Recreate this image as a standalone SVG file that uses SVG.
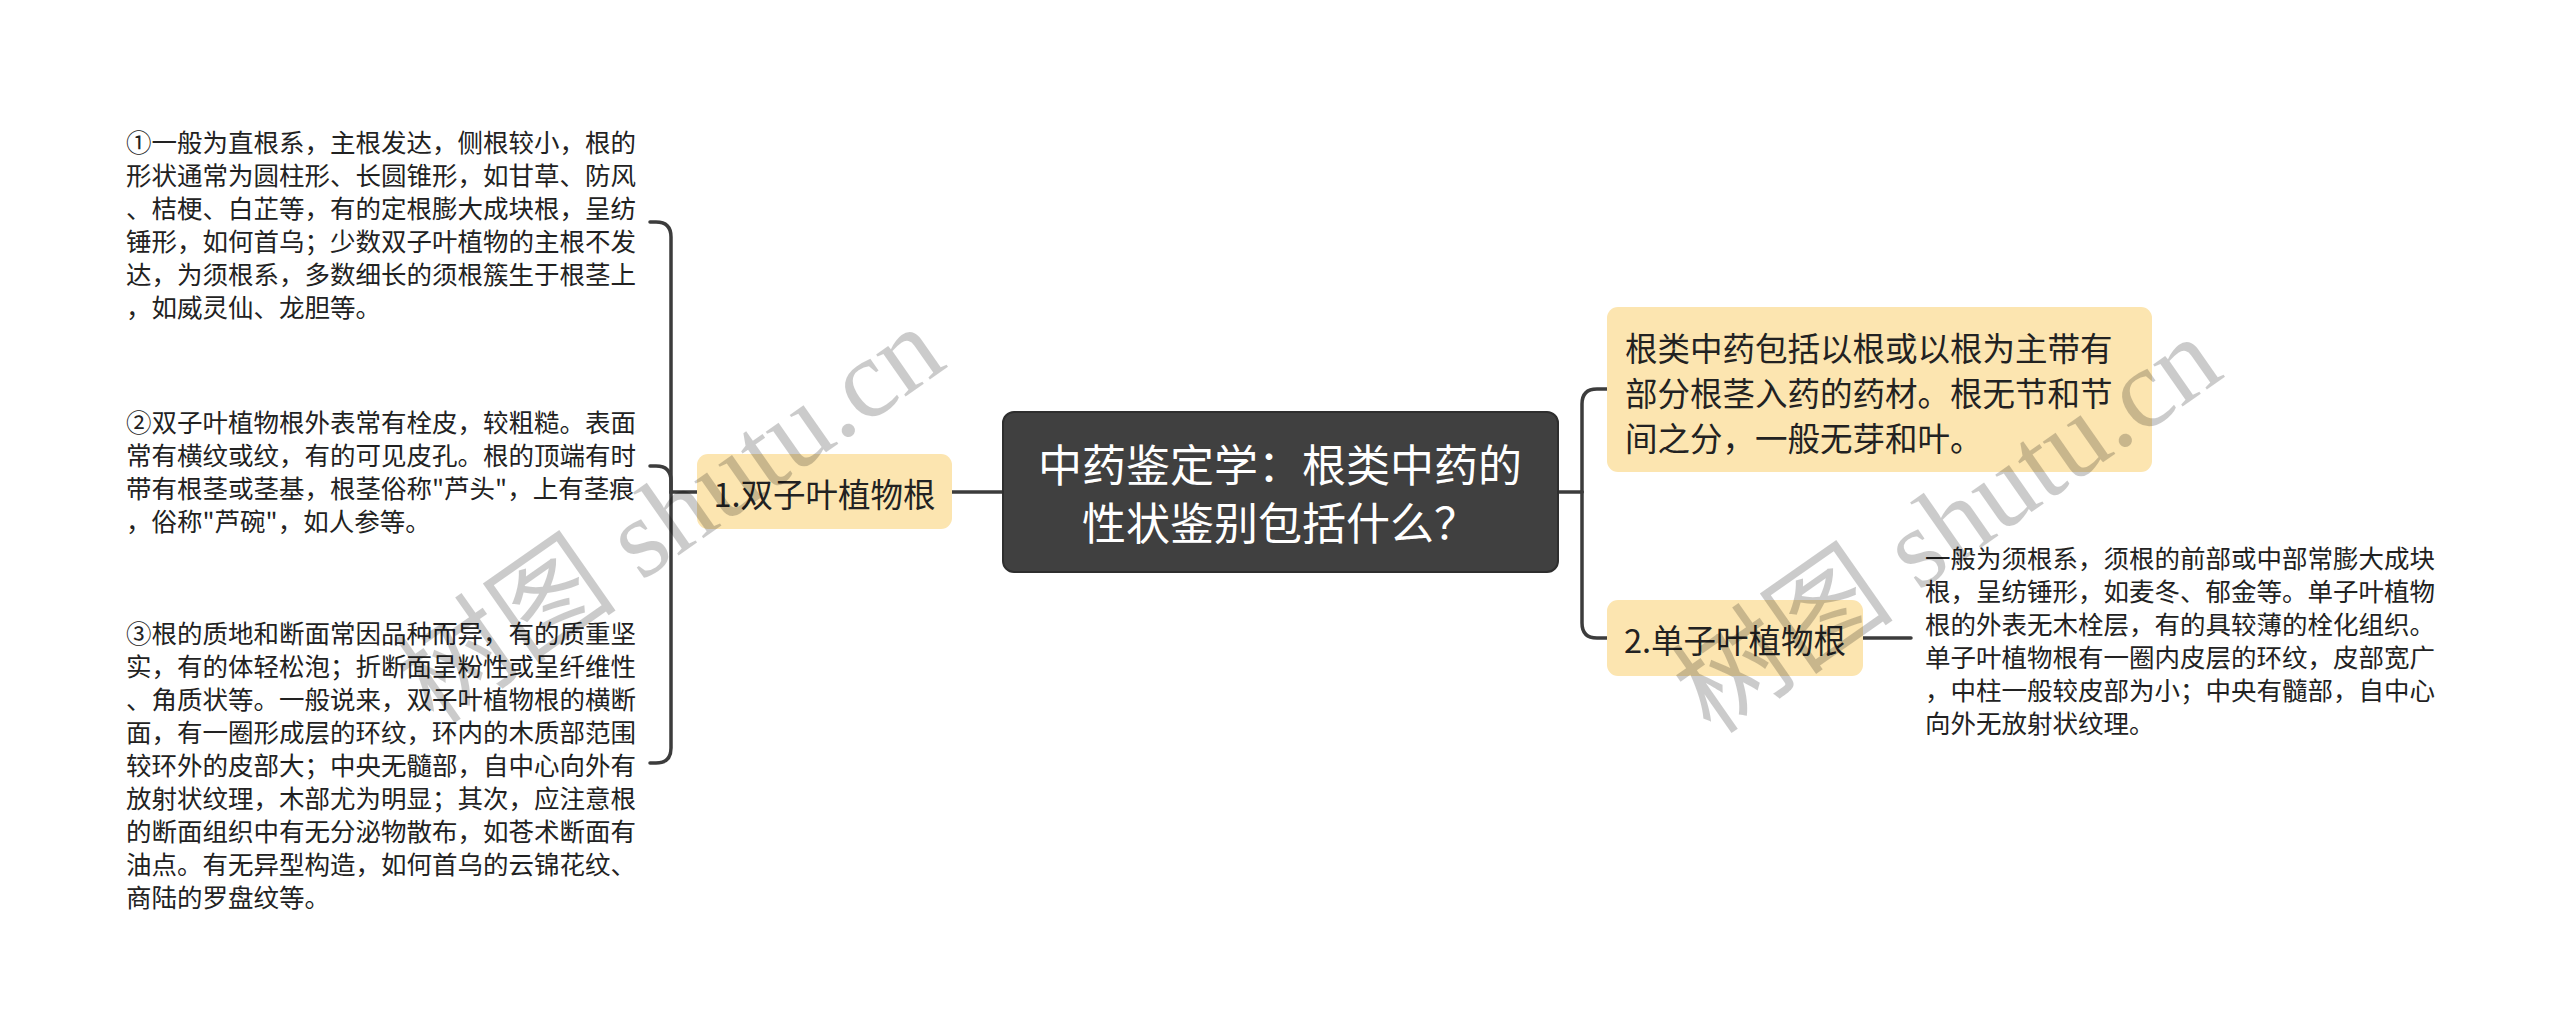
<svg xmlns="http://www.w3.org/2000/svg" width="2560" height="1033" viewBox="0 0 2560 1033">
<style>
.cn{font-family:"Noto Sans CJK SC","Noto Sans",sans-serif;}
.det{font-size:25.5px;fill:#222;}
.mid{font-size:32.5px;fill:#222;}
.rt{font-size:44px;fill:#fff;}
.box{fill:#fce5b0;}
.link{fill:none;stroke:#3c3c3c;stroke-width:3.5;stroke-linecap:round;}
.wm{font-family:"Liberation Serif","Noto Sans CJK SC",serif;font-size:112px;fill:#000;opacity:0.2;}
</style>
<rect width="2560" height="1033" fill="#fff"/>
<g id="connectors">
  <path class="link" d="M1003 492 H952"/>
  <path class="link" d="M697 492 H671 V237 Q671 222 656 222 H650"/>
  <path class="link" d="M671 492 V481 Q671 466 656 466 H650"/>
  <path class="link" d="M671 492 V748 Q671 763 656 763 H650"/>
  <path class="link" d="M1557 492 H1582"/>
  <path class="link" d="M1582 492 V404 Q1582 389 1597 389 H1607"/>
  <path class="link" d="M1582 492 V623 Q1582 638 1597 638 H1607"/>
  <path class="link" d="M1863 638 H1911"/>
</g>
<g id="root">
  <rect x="1003" y="412" width="555" height="160" rx="11" fill="#404040" stroke="#2e2e2e" stroke-width="2"/>
  <text class="cn rt" text-anchor="middle" dominant-baseline="central"><tspan x="1280" y="463">中药鉴定学：根类中药的</tspan><tspan x="1280" y="521">性状鉴别包括什么？</tspan></text>
</g>
<g id="node1">
  <rect class="box" x="697" y="454" width="255" height="75" rx="11"/>
  <text class="cn mid" x="824.5" y="492" text-anchor="middle" dominant-baseline="central">1.双子叶植物根</text>
</g>
<g id="detail1">
  <text class="cn det" dominant-baseline="central"><tspan x="126" y="140">①一般为直根系，主根发达，侧根较小，根的</tspan><tspan x="126" y="173">形状通常为圆柱形、长圆锥形，如甘草、防风</tspan><tspan x="126" y="206">、桔梗、白芷等，有的定根膨大成块根，呈纺</tspan><tspan x="126" y="239">锤形，如何首乌；少数双子叶植物的主根不发</tspan><tspan x="126" y="272">达，为须根系，多数细长的须根簇生于根茎上</tspan><tspan x="126" y="305">，如威灵仙、龙胆等。</tspan></text>
</g>
<g id="detail2">
  <text class="cn det" dominant-baseline="central"><tspan x="126" y="420">②双子叶植物根外表常有栓皮，较粗糙。表面</tspan><tspan x="126" y="453">常有横纹或纹，有的可见皮孔。根的顶端有时</tspan><tspan x="126" y="486">带有根茎或茎基，根茎俗称"芦头"，上有茎痕</tspan><tspan x="126" y="519">，俗称"芦碗"，如人参等。</tspan></text>
</g>
<g id="detail3">
  <text class="cn det" dominant-baseline="central"><tspan x="126" y="631">③根的质地和断面常因品种而异，有的质重坚</tspan><tspan x="126" y="664">实，有的体轻松泡；折断面呈粉性或呈纤维性</tspan><tspan x="126" y="697">、角质状等。一般说来，双子叶植物根的横断</tspan><tspan x="126" y="730">面，有一圈形成层的环纹，环内的木质部范围</tspan><tspan x="126" y="763">较环外的皮部大；中央无髓部，自中心向外有</tspan><tspan x="126" y="796">放射状纹理，木部尤为明显；其次，应注意根</tspan><tspan x="126" y="829">的断面组织中有无分泌物散布，如苍术断面有</tspan><tspan x="126" y="862">油点。有无异型构造，如何首乌的云锦花纹、</tspan><tspan x="126" y="895">商陆的罗盘纹等。</tspan></text>
</g>
<g id="node-top">
  <rect class="box" x="1607" y="307" width="545" height="165" rx="11"/>
  <text class="cn mid" dominant-baseline="central"><tspan x="1625" y="346">根类中药包括以根或以根为主带有</tspan><tspan x="1625" y="391">部分根茎入药的药材。根无节和节</tspan><tspan x="1625" y="436">间之分，一般无芽和叶。</tspan></text>
</g>
<g id="node2">
  <rect class="box" x="1607" y="600" width="256" height="76" rx="11"/>
  <text class="cn mid" x="1735" y="638" text-anchor="middle" dominant-baseline="central">2.单子叶植物根</text>
</g>
<g id="detail4">
  <text class="cn det" dominant-baseline="central"><tspan x="1925" y="556">一般为须根系，须根的前部或中部常膨大成块</tspan><tspan x="1925" y="589">根，呈纺锤形，如麦冬、郁金等。单子叶植物</tspan><tspan x="1925" y="622">根的外表无木栓层，有的具较薄的栓化组织。</tspan><tspan x="1925" y="655">单子叶植物根有一圈内皮层的环纹，皮部宽广</tspan><tspan x="1925" y="688">，中柱一般较皮部为小；中央有髓部，自中心</tspan><tspan x="1925" y="721">向外无放射状纹理。</tspan></text>
</g>
<g id="watermarks">
  <text class="wm" x="673" y="552" text-anchor="middle" transform="rotate(-35 673 519)">树图 shutu.cn</text>
  <text class="wm" x="1950" y="562" text-anchor="middle" transform="rotate(-35 1950 529)">树图 shutu.cn</text>
</g>
</svg>
